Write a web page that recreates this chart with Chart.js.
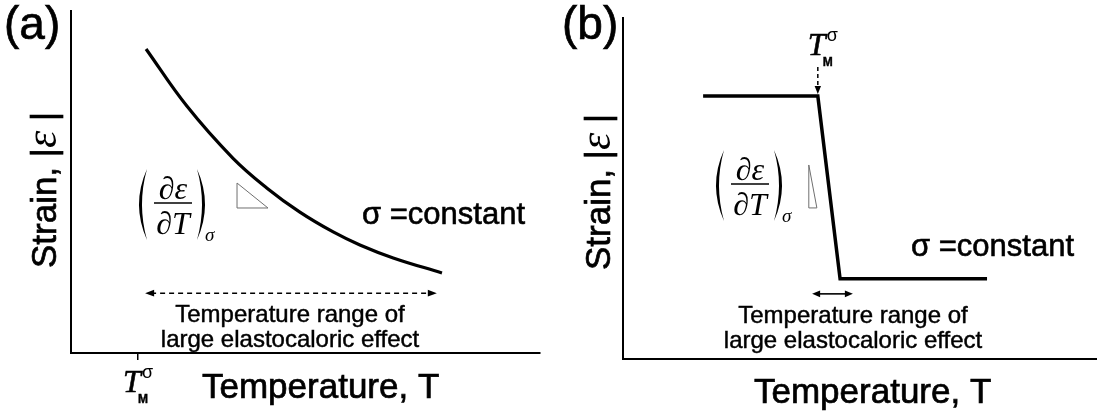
<!DOCTYPE html>
<html>
<head>
<meta charset="utf-8">
<script src="https://cdn.jsdelivr.net/npm/chart.js@4.4.0/dist/chart.umd.min.js"></script>
<style>
  html, body { margin: 0; padding: 0; background: #fff; overflow: hidden; }
  #wrap { position: relative; width: 1097px; height: 415px; }
  canvas { position: absolute; top: 0; }
  #ca { left: 0; }
  #cb { left: 548px; }
</style>
</head>
<body>
<div id="wrap">
  <canvas id="ca" width="548" height="415"></canvas>
  <canvas id="cb" width="549" height="415"></canvas>
</div>
<script>
// (a) strain falls off gradually with temperature
const tempA   = [16.0, 24.7, 34.5, 41.8, 48.8, 55.9, 61.6, 68.7, 79.1];
const strainA = [88.9, 72.2, 57.0, 48.2, 41.2, 35.4, 31.6, 27.8, 23.4];
// (b) strain drops abruptly at the transition
const tempB   = [16.9, 41.1, 45.8, 76.8];
const strainB = [77.1, 77.1, 23.5, 23.5];

// transition temperature T_M^sigma on each panel
const transitionA = 14.3;
const transitionB = 41.1;
// temperature window of large elastocaloric effect [from, to, strain level]
const windowA = [15.8, 78.0, 17.5];
const windowB = [39.9, 48.5, 19.1];
// slope triangles [x1, yTop, x2, yBottom]
const slopeA = [35.4, 49.7, 42.0, 42.4];
const slopeB = [39.2, 56.9, 40.9, 44.3];
// start of the dashed T_M marker in (b)
const markerTopB = 85.6;

const panelLetters = ['(a)', '(b)'];
const yTitleParts = ['Strain, |', '\u03B5', ' |'];
const xTitle = 'Temperature, T';
const stressLabel = '\u03C3 =constant';
const windowLines = ['Temperature range of', 'large elastocaloric effect'];

const SANS = '"Liberation Sans", Arial, Helvetica, sans-serif';
const SERIF = '"Liberation Serif", "Times New Roman", serif';

function toPoints(xs, ys) { return xs.map((x, i) => ({ x: x, y: ys[i] })); }

// text with a hairline outline so strokes read as heavy as printed type
function heavyText(ctx, text, x, y, w) {
  ctx.fillText(text, x, y);
  if (w > 0) {
    ctx.lineWidth = w;
    ctx.strokeText(text, x, y);
  }
}

function arrowHead(ctx, x, y, dx, dy, len, half) {
  ctx.beginPath();
  ctx.moveTo(x, y);
  ctx.lineTo(x - dx * len - dy * half, y - dy * len + dx * half);
  ctx.lineTo(x - dx * len + dy * half, y - dy * len - dx * half);
  ctx.closePath();
  ctx.fill();
}

function paren(ctx, x, top, bottom, dir) {
  // tall bracket drawn as a filled crescent; dir = -1 opens right, +1 opens left
  const mid = (top + bottom) / 2;
  ctx.beginPath();
  ctx.moveTo(x, top);
  ctx.quadraticCurveTo(x + dir * 16, mid, x, bottom);
  ctx.quadraticCurveTo(x + dir * 10, mid, x, top);
  ctx.fill();
}

function drawDerivative(ctx, cx, barY) {
  ctx.save();
  ctx.fillStyle = '#000';
  ctx.strokeStyle = '#000';
  ctx.lineWidth = 1.4;
  ctx.beginPath();
  ctx.moveTo(cx - 19, barY);
  ctx.lineTo(cx + 19, barY);
  ctx.stroke();
  ctx.font = 'italic 32px ' + SERIF;
  ctx.textAlign = 'center';
  ctx.textBaseline = 'alphabetic';
  ctx.fillText('\u2202\u03B5', cx, barY - 4);
  ctx.fillText('\u2202T', cx, barY + 31);
  paren(ctx, cx - 26, barY - 34, barY + 37, -1);
  paren(ctx, cx + 24, barY - 34, barY + 37, 1);
  ctx.font = 'italic 19px ' + SERIF;
  ctx.textAlign = 'left';
  ctx.fillText('\u03C3', cx + 32, barY + 38);
  ctx.restore();
}

function drawTM(ctx, left, base) {
  ctx.save();
  ctx.fillStyle = '#000';
  ctx.strokeStyle = '#000';
  ctx.textAlign = 'left';
  ctx.textBaseline = 'alphabetic';
  ctx.font = 'italic 32px ' + SERIF;
  heavyText(ctx, 'T', left, base, 0.6);
  ctx.font = 'bold 12px ' + SANS;
  heavyText(ctx, 'M', left + 15, base + 11, 0.4);
  ctx.font = '18px ' + SANS;
  ctx.fillText('\u03C3', left + 19, base - 14);
  ctx.restore();
}

function drawSlope(ctx, chart, s) {
  const x = chart.scales.x, y = chart.scales.y;
  const x1 = x.getPixelForValue(s[0]), x2 = x.getPixelForValue(s[2]);
  const yt = y.getPixelForValue(s[1]), yb = y.getPixelForValue(s[3]);
  ctx.save();
  ctx.strokeStyle = '#6f6f6f';
  ctx.lineWidth = 1;
  ctx.beginPath();
  ctx.moveTo(x1, yt);
  ctx.lineTo(x1, yb);
  ctx.lineTo(x2, yb);
  ctx.closePath();
  ctx.stroke();
  ctx.restore();
}

// vertical axis title: plain runs plus an enlarged epsilon, centred on (0,0)
function drawYTitle(ctx) {
  const fonts = ['35px ' + SANS, 'italic 44px ' + SERIF, '35px ' + SANS];
  const weights = [0.7, 0, 0.7];
  let total = 0;
  const widths = yTitleParts.map((t, i) => {
    ctx.font = fonts[i];
    const w = ctx.measureText(t).width;
    total += w;
    return w;
  });
  let x = -total / 2;
  ctx.textAlign = 'left';
  yTitleParts.forEach((t, i) => {
    ctx.font = fonts[i];
    heavyText(ctx, t, x, 0, weights[i]);
    x += widths[i];
  });
}

function drawCommonText(ctx, L) {
  ctx.save();
  ctx.fillStyle = '#000';
  ctx.strokeStyle = '#000';
  ctx.textBaseline = 'alphabetic';
  // panel letter
  ctx.textAlign = 'left';
  ctx.font = '46px ' + SANS;
  heavyText(ctx, L.letter, L.letterX, 39, 0.7);
  // vertical axis title
  ctx.save();
  ctx.translate(L.yTitleX, L.yTitleY);
  ctx.rotate(-Math.PI / 2);
  drawYTitle(ctx);
  ctx.restore();
  // horizontal axis title
  ctx.textAlign = 'left';
  ctx.font = '35px ' + SANS;
  heavyText(ctx, xTitle, L.xTitleX, L.xTitleY, 0.7);
  // stress label
  ctx.font = '31px ' + SANS;
  heavyText(ctx, stressLabel, L.stressX, L.stressY, 0.6);
  // window description
  ctx.textAlign = 'center';
  ctx.font = '24px ' + SANS;
  heavyText(ctx, windowLines[0], L.winX, L.winY, 0.45);
  heavyText(ctx, windowLines[1], L.winX, L.winY + 25, 0.45);
  ctx.restore();
}

const overlayA = {
  id: 'overlayA',
  afterDraw(chart) {
    const ctx = chart.ctx, xs = chart.scales.x, ys = chart.scales.y;
    drawCommonText(ctx, {
      letter: panelLetters[0], letterX: 4,
      yTitleX: 56, yTitleY: 190,
      xTitleX: 202, xTitleY: 398,
      stressX: 362, stressY: 224,
      winX: 290, winY: 322
    });
    drawDerivative(ctx, 173, 203);
    drawSlope(ctx, chart, slopeA);
    // dashed double arrow for the effect window
    const x1 = xs.getPixelForValue(windowA[0]), x2 = xs.getPixelForValue(windowA[1]);
    const yy = ys.getPixelForValue(windowA[2]);
    ctx.save();
    ctx.strokeStyle = '#000';
    ctx.fillStyle = '#000';
    ctx.lineWidth = 1.5;
    ctx.setLineDash([5, 4]);
    ctx.beginPath();
    ctx.moveTo(x1 + 6, yy);
    ctx.lineTo(x2 - 6, yy);
    ctx.stroke();
    ctx.setLineDash([]);
    arrowHead(ctx, x1, yy, -1, 0, 9, 3.4);
    arrowHead(ctx, x2, yy, 1, 0, 9, 3.4);
    ctx.restore();
    // transition temperature label under its tick
    drawTM(ctx, xs.getPixelForValue(transitionA) - 15, 392);
  }
};

const overlayB = {
  id: 'overlayB',
  afterDraw(chart) {
    const ctx = chart.ctx, xs = chart.scales.x, ys = chart.scales.y;
    drawCommonText(ctx, {
      letter: panelLetters[1], letterX: 14,
      yTitleX: 62, yTitleY: 192,
      xTitleX: 206, xTitleY: 403,
      stressX: 363, stressY: 256,
      winX: 305, winY: 323
    });
    drawDerivative(ctx, 202, 184);
    drawSlope(ctx, chart, slopeB);
    // solid double arrow for the narrow effect window
    const x1 = xs.getPixelForValue(windowB[0]), x2 = xs.getPixelForValue(windowB[1]);
    const yy = ys.getPixelForValue(windowB[2]);
    ctx.save();
    ctx.strokeStyle = '#000';
    ctx.fillStyle = '#000';
    ctx.lineWidth = 1.6;
    ctx.beginPath();
    ctx.moveTo(x1 + 5, yy);
    ctx.lineTo(x2 - 5, yy);
    ctx.stroke();
    arrowHead(ctx, x1, yy, -1, 0, 8, 3.4);
    arrowHead(ctx, x2, yy, 1, 0, 8, 3.4);
    // dashed marker pointing at the transition
    const mx = xs.getPixelForValue(transitionB);
    const top = ys.getPixelForValue(markerTopB);
    const tip = ys.getPixelForValue(strainB[1]) - 2;
    ctx.lineWidth = 1.5;
    ctx.setLineDash([4, 3]);
    ctx.beginPath();
    ctx.moveTo(mx, top);
    ctx.lineTo(mx, tip - 7);
    ctx.stroke();
    ctx.setLineDash([]);
    arrowHead(ctx, mx, tip, 0, 1, 8, 3.2);
    ctx.restore();
    drawTM(ctx, mx - 10, 55);
  }
};

function baseScales(tickValue) {
  const x = {
    type: 'linear', min: 0, max: 100,
    ticks: { display: false },
    grid: { display: false, drawTicks: false },
    border: { display: true, color: '#000', width: 2 }
  };
  if (tickValue !== null) {
    x.grid = { display: true, drawOnChartArea: false, drawTicks: true, tickLength: 7, color: '#000', lineWidth: 1.5 };
    x.afterBuildTicks = (scale) => { scale.ticks = [{ value: tickValue }]; };
  }
  return {
    x: x,
    y: {
      type: 'linear', min: 0, max: 100,
      ticks: { display: false },
      grid: { display: false, drawTicks: false },
      border: { display: true, color: '#000', width: 2 }
    }
  };
}

const common = {
  responsive: false,
  animation: false,
  devicePixelRatio: 1,
  plugins: { legend: { display: false }, tooltip: { enabled: false } },
  elements: { point: { radius: 0 } }
};

new Chart(document.getElementById('ca'), {
  type: 'line',
  data: {
    datasets: [{
      data: toPoints(tempA, strainA),
      borderColor: '#000', borderWidth: 3.2,
      tension: 0.4, fill: false, borderCapStyle: 'butt'
    }]
  },
  options: Object.assign({}, common, {
    layout: { padding: { left: 71, top: 11, right: 8, bottom: 55 } },
    scales: baseScales(transitionA)
  }),
  plugins: [overlayA]
});

new Chart(document.getElementById('cb'), {
  type: 'line',
  data: {
    datasets: [{
      data: toPoints(tempB, strainB),
      borderColor: '#000', borderWidth: 3.5,
      tension: 0, fill: false, borderJoinStyle: 'miter'
    }]
  },
  options: Object.assign({}, common, {
    layout: { padding: { left: 75, top: 18, right: 0, bottom: 56 } },
    scales: baseScales(null)
  }),
  plugins: [overlayB]
});
</script>
</body>
</html>
